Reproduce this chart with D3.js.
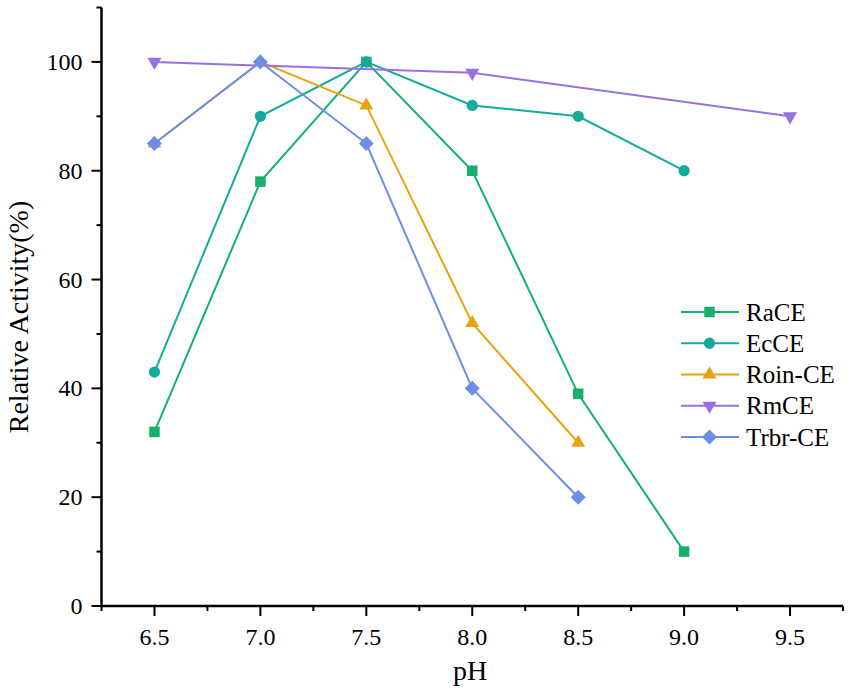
<!DOCTYPE html>
<html>
<head>
<meta charset="utf-8">
<script src="https://cdn.jsdelivr.net/npm/d3@7"></script>
<style>
  body { margin: 0; background: #fff; }
  svg text { font-family: "Liberation Serif", "Times New Roman", serif; fill: #000; }
</style>
</head>
<body>
<svg width="851" height="693"></svg>
<script>
// data
const seriesNames = ["RaCE", "EcCE", "Roin-CE", "RmCE", "Trbr-CE"];
const seriesColors = ["#14b06c", "#15aa9c", "#e8a20e", "#9a6fe0", "#6a8fe4"];
const seriesSymbols = ["square", "circle", "up", "down", "diamond"];

const raceX = [6.5, 7.0, 7.5, 8.0, 8.5, 9.0];
const raceY = [32, 78, 100, 80, 39, 10];
const ecceX = [6.5, 7.0, 7.5, 8.0, 8.5, 9.0];
const ecceY = [43, 90, 100, 92, 90, 80];
const roinX = [6.5, 7.0, 7.5, 8.0, 8.5];
const roinY = [85, 100, 92, 52, 30];
const rmceX = [6.5, 8.0, 9.5];
const rmceY = [100, 98, 90];
const trbrX = [6.5, 7.0, 7.5, 8.0, 8.5];
const trbrY = [85, 100, 85, 40, 20];

const xTicks = [6.5, 7.0, 7.5, 8.0, 8.5, 9.0, 9.5];
const yTicks = [0, 20, 40, 60, 80, 100];

const allX = [raceX, ecceX, roinX, rmceX, trbrX];
const allY = [raceY, ecceY, roinY, rmceY, trbrY];
const series = seriesNames.map((name, i) => ({
  name: name,
  color: seriesColors[i],
  symbol: seriesSymbols[i],
  pts: allX[i].map((x, j) => [x, allY[i][j]])
}));

const svg = d3.select("svg");
const x = d3.scaleLinear().domain([6.25, 9.75]).range([101.5, 843]);
const y = d3.scaleLinear().domain([0, 110]).range([606, 7.5]);

// axes
const xAxis = svg.append("g").attr("transform", "translate(0,606)");
xAxis.append("line").attr("x1", x(6.25)).attr("x2", x(9.75))
  .attr("stroke", "#000").attr("stroke-width", 2.5);
d3.range(6.25, 9.76, 0.25).forEach(v => {
  const major = Math.abs(v * 2 - Math.round(v * 2)) < 1e-6;
  xAxis.append("line").attr("x1", x(v)).attr("x2", x(v))
    .attr("y1", 0).attr("y2", major ? 10 : 5)
    .attr("stroke", "#000").attr("stroke-width", 2);
});
xAxis.selectAll("text.tick").data(xTicks).enter().append("text")
  .attr("x", d => x(d)).attr("y", 39)
  .attr("text-anchor", "middle").attr("font-size", 24)
  .text(d => d.toFixed(1));

const yAxis = svg.append("g").attr("transform", "translate(101.5,0)");
yAxis.append("line").attr("y1", y(0) + 1).attr("y2", y(110))
  .attr("stroke", "#000").attr("stroke-width", 2.5);
d3.range(0, 111, 10).forEach(v => {
  yAxis.append("line").attr("y1", y(v)).attr("y2", y(v))
    .attr("x1", 0).attr("x2", v % 20 === 0 ? -10 : -5)
    .attr("stroke", "#000").attr("stroke-width", 2);
});
yAxis.selectAll("text.tick").data(yTicks).enter().append("text")
  .attr("x", -19).attr("y", d => y(d) + 8)
  .attr("text-anchor", "end").attr("font-size", 24)
  .text(d => d);

svg.append("text").attr("x", 470).attr("y", 680)
  .attr("text-anchor", "middle").attr("font-size", 28).text("pH");
svg.append("text")
  .attr("transform", "translate(28,317) rotate(-90)")
  .attr("text-anchor", "middle").attr("font-size", 28)
  .text("Relative Activity(%)");

// markers
function symbolPath(s) {
  if (s === "square") return d3.symbol(d3.symbolSquare, 110)();
  if (s === "circle") return d3.symbol(d3.symbolCircle, 100)();
  if (s === "diamond") return "M0,-7.5L7.5,0L0,7.5L-7.5,0Z";
  return d3.symbol(d3.symbolTriangle, 85)();
}
function symbolRot(s) { return s === "down" ? " rotate(180)" : ""; }

const line = d3.line().x(d => x(d[0])).y(d => y(d[1]));
const plot = svg.append("g");
series.forEach(s => {
  const g = plot.append("g");
  g.append("path").attr("d", line(s.pts))
    .attr("fill", "none").attr("stroke", s.color).attr("stroke-width", 2);
  g.selectAll("path.mk").data(s.pts).enter().append("path")
    .attr("class", "mk")
    .attr("d", symbolPath(s.symbol))
    .attr("transform", d => `translate(${x(d[0])},${y(d[1])})` + symbolRot(s.symbol))
    .attr("fill", s.color);
});

// legend
const legend = svg.append("g").attr("transform", "translate(681,312)");
series.forEach((s, i) => {
  const row = legend.append("g").attr("transform", `translate(0,${i * 31.25})`);
  row.append("line").attr("x1", 0).attr("x2", 58)
    .attr("stroke", s.color).attr("stroke-width", 2);
  row.append("path").attr("d", symbolPath(s.symbol))
    .attr("transform", "translate(28.5,0)" + symbolRot(s.symbol))
    .attr("fill", s.color);
  row.append("text").attr("x", 65).attr("y", 8.5)
    .attr("font-size", 25).text(s.name);
});
</script>
</body>
</html>
